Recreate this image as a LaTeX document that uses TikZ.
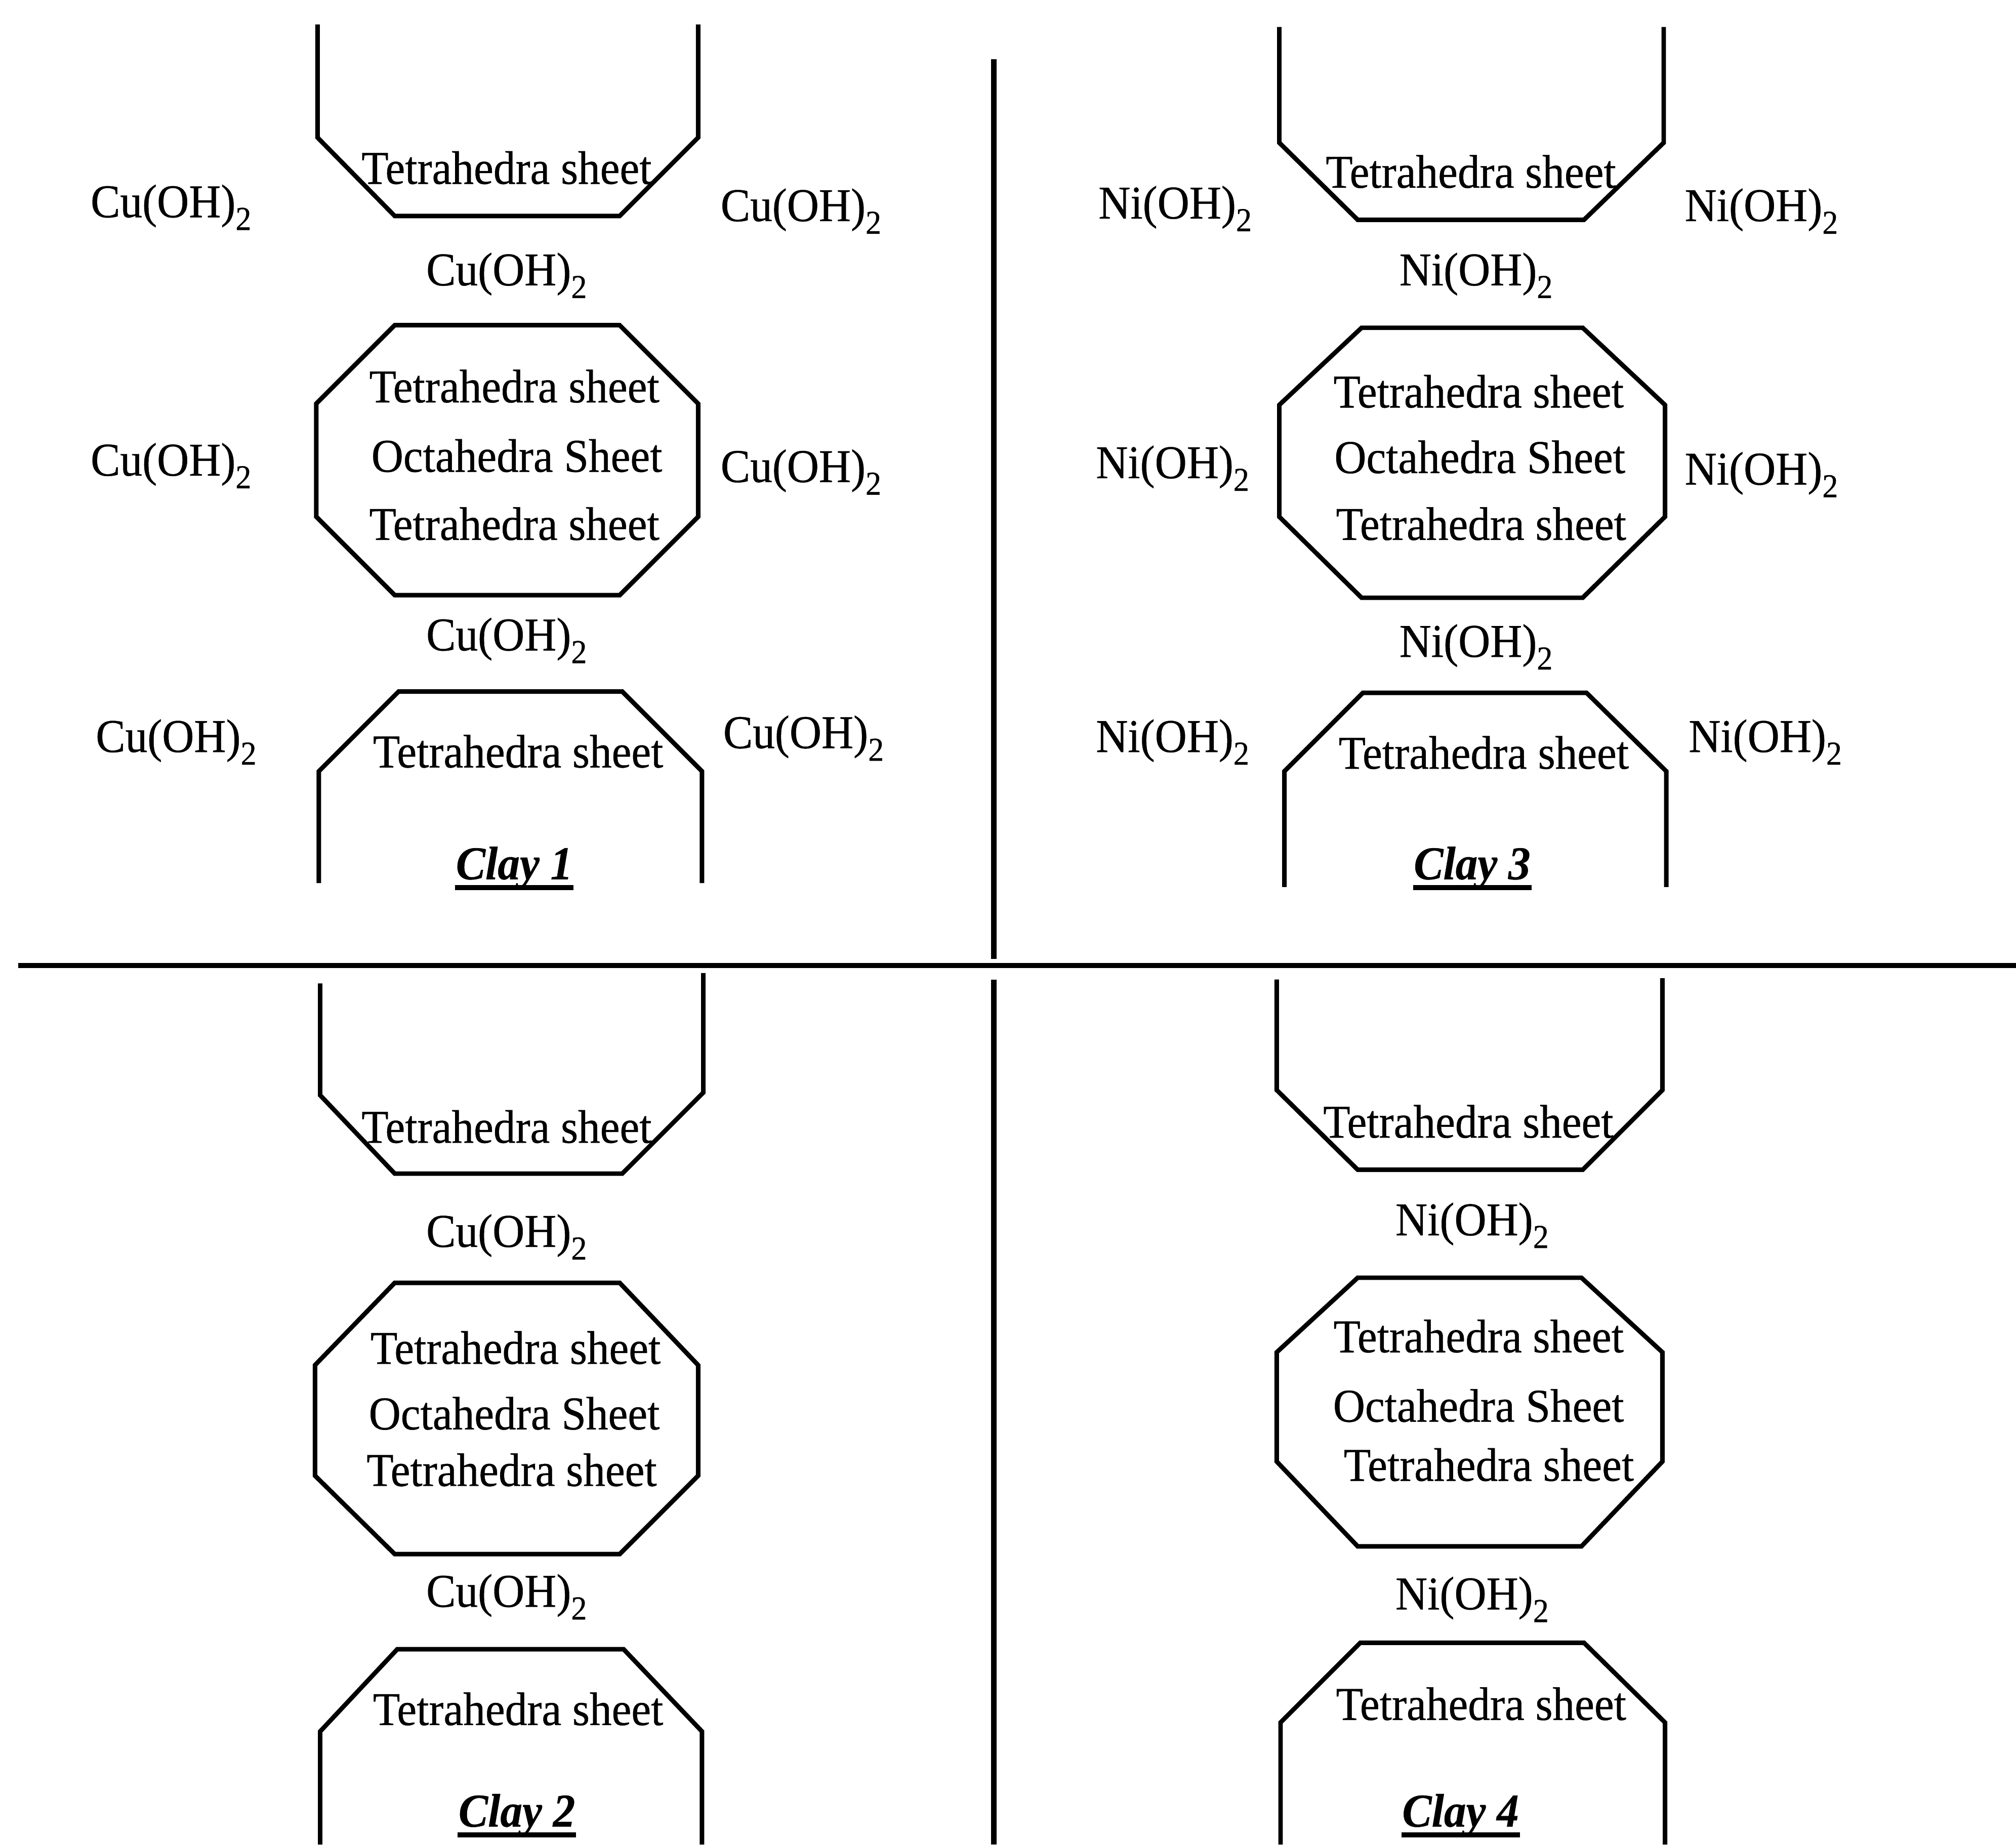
\documentclass[tikz,border=0pt]{standalone}
\usepackage{fontspec}
\setmainfont[FakeStretch=0.94,FakeBold=0.5]{Liberation Serif}
\newcommand{\lowsub}[1]{\raisebox{-2.8pt}{\fontsize{7.4pt}{8pt}\selectfont #1}}
\newcommand{\cuoh}{Cu(OH)\lowsub{2}}
\newcommand{\nioh}{Ni(OH)\lowsub{2}}
\begin{document}
\begin{tikzpicture}[x=0.01cm,y=-0.01cm,
  sheet/.style={line width=1pt,line join=miter},
  divider/.style={line width=1.15pt},
  lbl/.style={anchor=base,inner sep=0pt,font=\fontsize{10.4pt}{12pt}\selectfont},
  claylbl/.style={lbl,font=\fontsize{10.4pt}{12pt}\selectfont\bfseries\itshape},
  uline/.style={line width=1.1pt}]
\fill[white] (0,0) rectangle (1568,1435);
\useasboundingbox (0,0) rectangle (1568,1435);

% frame dividers
\draw[divider] (773,46) -- (773,746);
\draw[divider] (14,751) -- (1568,751);
\draw[divider] (773,762) -- (773,1435);

% ---------------- Clay 1 ----------------
\draw[sheet] (247,19) -- (247,107) -- (307,168) -- (482,168) -- (543,107) -- (543,19);
\draw[sheet] (307,253) -- (482,253) -- (543,314) -- (543,402) -- (482,463) -- (307,463) -- (246,402) -- (246,314) -- cycle;
\draw[sheet] (248,687) -- (248,600) -- (310,538) -- (484,538) -- (546,600) -- (546,687);
\node[lbl] (a-top) at (394,143) {Tetrahedra sheet};
\node[lbl] (a-l1) at (133,169) {\cuoh};
\node[lbl] (a-r1) at (623,172) {\cuoh};
\node[lbl] (a-m1) at (394,222) {\cuoh};
\node[lbl] (a-t1) at (400,313) {Tetrahedra sheet};
\node[lbl] (a-o) at (402,367) {Octahedra Sheet};
\node[lbl] (a-t2) at (400,420) {Tetrahedra sheet};
\node[lbl] (a-l2) at (133,370) {\cuoh};
\node[lbl] (a-r2) at (623,375) {\cuoh};
\node[lbl] (a-m2) at (394,506) {\cuoh};
\node[lbl] (a-bot) at (403,597) {Tetrahedra sheet};
\node[lbl] (a-l3) at (137,585) {\cuoh};
\node[lbl] (a-r3) at (625,582) {\cuoh};
\node[claylbl] (c1) at (400,684) {Clay 1};
\draw[uline] ([yshift=-1.8pt]c1.base west) -- ([yshift=-1.8pt]c1.base east);

% ---------------- Clay 3 ----------------
\draw[sheet] (995,21) -- (995,111) -- (1056,171) -- (1232,171) -- (1294,111) -- (1294,21);
\draw[sheet] (1059,255) -- (1231,255) -- (1295,315) -- (1295,402) -- (1231,465) -- (1059,465) -- (995,402) -- (995,315) -- cycle;
\draw[sheet] (999,690) -- (999,600) -- (1060,539) -- (1234,539) -- (1296,600) -- (1296,690);
\node[lbl] (b-top) at (1144,146) {Tetrahedra sheet};
\node[lbl] (b-l1) at (914,170) {\nioh};
\node[lbl] (b-r1) at (1370,172) {\nioh};
\node[lbl] (b-m1) at (1148,222) {\nioh};
\node[lbl] (b-t1) at (1150,317) {Tetrahedra sheet};
\node[lbl] (b-o) at (1151,368) {Octahedra Sheet};
\node[lbl] (b-t2) at (1152,420) {Tetrahedra sheet};
\node[lbl] (b-l2) at (912,372) {\nioh};
\node[lbl] (b-r2) at (1370,377) {\nioh};
\node[lbl] (b-m2) at (1148,511) {\nioh};
\node[lbl] (b-bot) at (1154,598) {Tetrahedra sheet};
\node[lbl] (b-l3) at (912,585) {\nioh};
\node[lbl] (b-r3) at (1373,585) {\nioh};
\node[claylbl] (c3) at (1145,684) {Clay 3};
\draw[uline] ([yshift=-1.8pt]c3.base west) -- ([yshift=-1.8pt]c3.base east);

% ---------------- Clay 2 ----------------
\draw[sheet] (249,765) -- (249,852) -- (307,913) -- (484,913) -- (547,850) -- (547,757);
\draw[sheet] (307,998) -- (482,998) -- (543,1062) -- (543,1148) -- (482,1209) -- (307,1209) -- (245,1148) -- (245,1062) -- cycle;
\draw[sheet] (249,1435) -- (249,1347) -- (309,1283) -- (485,1283) -- (546,1347) -- (546,1435);
\node[lbl] (c-top) at (394,889) {Tetrahedra sheet};
\node[lbl] (c-m1) at (394,970) {\cuoh};
\node[lbl] (c-t1) at (401,1061) {Tetrahedra sheet};
\node[lbl] (c-o) at (400,1112) {Octahedra Sheet};
\node[lbl] (c-t2) at (398,1156) {Tetrahedra sheet};
\node[lbl] (c-m2) at (394,1250) {\cuoh};
\node[lbl] (c-bot) at (403,1342) {Tetrahedra sheet};
\node[claylbl] (c2) at (402,1421) {Clay 2};
\draw[uline] ([yshift=-1.8pt]c2.base west) -- ([yshift=-1.8pt]c2.base east);

% ---------------- Clay 4 ----------------
\draw[sheet] (993,762) -- (993,848) -- (1056,910) -- (1231,910) -- (1293,848) -- (1293,761);
\draw[sheet] (1056,994) -- (1230,994) -- (1293,1052) -- (1293,1137) -- (1230,1203) -- (1056,1203) -- (993,1137) -- (993,1052) -- cycle;
\draw[sheet] (996,1435) -- (996,1340) -- (1058,1278) -- (1232,1278) -- (1295,1340) -- (1295,1435);
\node[lbl] (d-top) at (1142,885) {Tetrahedra sheet};
\node[lbl] (d-m1) at (1145,961) {\nioh};
\node[lbl] (d-t1) at (1150,1052) {Tetrahedra sheet};
\node[lbl] (d-o) at (1150,1106) {Octahedra Sheet};
\node[lbl] (d-t2) at (1158,1152) {Tetrahedra sheet};
\node[lbl] (d-m2) at (1145,1252) {\nioh};
\node[lbl] (d-bot) at (1152,1338) {Tetrahedra sheet};
\node[claylbl] (c4) at (1136,1421) {Clay 4};
\draw[uline] ([yshift=-1.8pt]c4.base west) -- ([yshift=-1.8pt]c4.base east);
\end{tikzpicture}
\end{document}
